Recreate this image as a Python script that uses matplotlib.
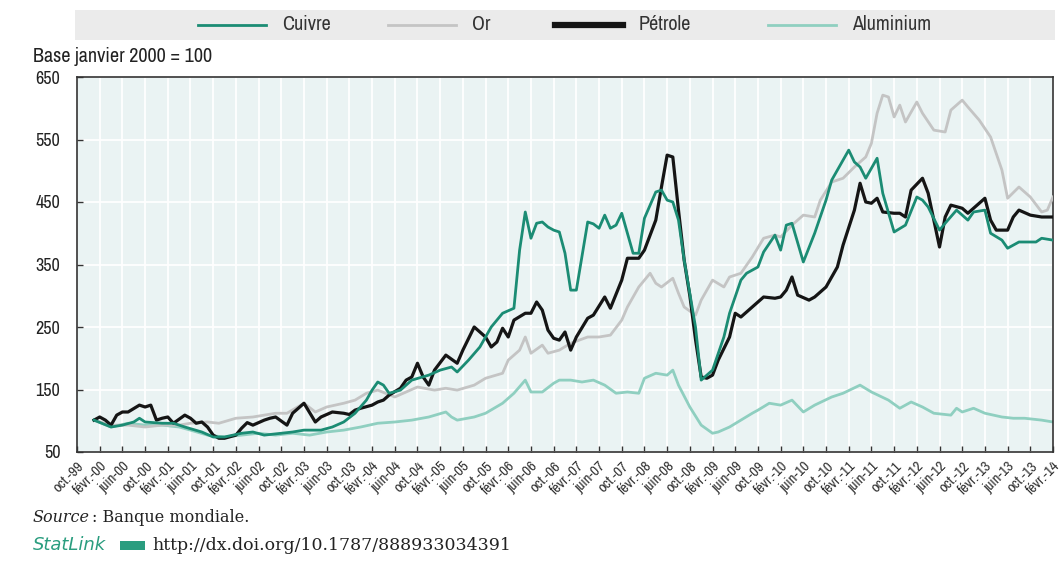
import matplotlib
matplotlib.use("Agg")
import matplotlib.pyplot as plt
from matplotlib.patches import Rectangle
from matplotlib.lines import Line2D

# months counted from janvier 2000 (0 = janv. 2000)
petrole_m = [0, 1, 2, 3, 4, 5, 6, 8, 9, 10, 11, 12, 13, 14, 16, 17, 18, 19, 20, 21, 22, 23, 25, 26, 27, 28,
             30, 31, 32, 34, 35, 37, 39, 40, 42, 44, 45, 46, 47, 49, 50, 51, 52, 54, 55, 56, 57, 58, 59, 60,
             62, 64, 65, 67, 69, 70, 71, 72, 73, 74, 76, 77, 78, 79, 80, 81, 82, 83, 84, 85, 87, 88, 90, 91,
             93, 94, 96, 97, 99, 100, 101, 102, 103, 104, 105, 106, 107, 108, 109, 110, 112, 113, 114, 116,
             118, 120, 121, 122, 123, 124, 126, 127, 129, 131, 132, 134, 135, 136, 137, 138, 139, 141, 142,
             143, 144, 146, 147, 149, 150, 151, 153, 154, 155, 157, 158, 159, 161, 162, 163, 165, 167, 169]
petrole_v = [101, 106, 101, 93, 109, 114, 114, 125, 122, 125, 101, 104, 106, 96, 109, 104, 96, 98, 90, 77, 72,
             72, 77, 88, 97, 93, 101, 104, 106, 93, 112, 128, 98, 106, 114, 112, 110, 117, 120, 125, 130, 133,
             141, 152, 165, 170, 192, 170, 157, 181, 205, 192, 213, 250, 234, 218, 226, 248, 234, 261, 272,
             272, 290, 277, 245, 232, 229, 242, 213, 234, 264, 269, 298, 280, 325, 360, 360, 373, 421, 474,
             525, 522, 437, 357, 300, 230, 170, 168, 173, 197, 234, 272, 266, 282, 298, 296, 298, 309, 330,
             301, 293, 298, 314, 346, 381, 437, 480, 450, 448, 456, 434, 432, 432, 426, 469, 488, 464, 378,
             426, 445, 440, 432, 440, 456, 421, 405, 405, 426, 437, 429, 426, 426]

cuivre_m = [0, 3, 5, 7, 8, 9, 12, 14, 16, 19, 21, 23, 26, 28, 30, 33, 35, 37, 40, 42, 44, 46, 48, 49, 50, 51,
            52, 54, 56, 59, 61, 63, 64, 66, 68, 70, 72, 74, 75, 76, 77, 78, 79, 80, 81, 82, 83, 84, 85, 87,
            88, 89, 90, 91, 92, 93, 95, 96, 97, 99, 100, 101, 102, 103, 104, 106, 107, 108, 109, 111, 112,
            114, 115, 117, 118, 120, 121, 122, 123, 125, 127, 129, 130, 133, 134, 135, 136, 138, 139, 141,
            143, 145, 146, 147, 149, 150, 152, 154, 155, 157, 158, 160, 161, 163, 164, 166, 167, 169]
cuivre_v = [101, 90, 93, 98, 104, 98, 96, 96, 90, 82, 74, 74, 80, 82, 77, 80, 82, 85, 85, 90, 98, 112, 133,
            149, 162, 157, 144, 149, 165, 173, 181, 186, 178, 197, 218, 250, 272, 280, 373, 434, 392, 416,
            418, 410, 405, 402, 368, 309, 309, 418, 415, 408, 429, 408, 413, 432, 368, 368, 424, 466, 469,
            453, 450, 421, 357, 250, 165, 173, 181, 234, 272, 325, 336, 346, 370, 397, 373, 413, 416, 354,
            400, 453, 485, 533, 514, 506, 488, 520, 464, 402, 413, 458, 453, 442, 405, 416, 437, 421, 434,
            437, 400, 389, 376, 386, 386, 386, 392, 389]

or_m = [0, 3, 6, 9, 12, 15, 17, 20, 22, 25, 28, 32, 34, 37, 39, 41, 44, 46, 48, 50, 53, 55, 57, 60, 62, 64,
        67, 69, 72, 73, 75, 76, 77, 79, 80, 82, 84, 87, 89, 91, 93, 94, 96, 98, 99, 100, 102, 103, 104, 106,
        107, 109, 111, 112, 114, 116, 118, 120, 121, 123, 125, 127, 128, 130, 132, 134, 136, 137, 138, 139,
        140, 141, 142, 143, 145, 146, 148, 150, 151, 153, 154, 156, 158, 160, 161, 163, 165, 167, 168, 169]
or_v = [101, 93, 93, 90, 93, 93, 96, 98, 96, 104, 106, 112, 112, 128, 114, 122, 128, 133, 144, 149, 138, 146,
        154, 149, 152, 149, 157, 168, 176, 197, 213, 234, 208, 221, 208, 213, 224, 234, 234, 237, 261, 282,
        314, 336, 320, 314, 328, 304, 282, 269, 293, 325, 314, 330, 336, 362, 392, 397, 394, 413, 429, 426,
        453, 482, 488, 506, 522, 544, 592, 621, 618, 586, 605, 578, 610, 592, 565, 562, 597, 613, 602, 581,
        554, 501, 456, 474, 458, 434, 437, 458]

alu_m = [0, 3, 6, 9, 12, 15, 17, 20, 23, 26, 29, 32, 35, 38, 41, 44, 47, 50, 53, 56, 59, 62, 63, 64, 67, 69,
         72, 74, 76, 77, 79, 81, 82, 84, 86, 88, 90, 92, 94, 96, 97, 99, 101, 102, 103, 105, 107, 109, 110,
         112, 114, 116, 117, 119, 121, 123, 125, 127, 130, 132, 135, 137, 140, 142, 144, 146, 148, 151, 152,
         153, 155, 157, 160, 162, 164, 167, 169]
alu_v = [101, 90, 96, 93, 93, 90, 85, 77, 74, 77, 80, 77, 80, 77, 82, 85, 90, 96, 98, 101, 106, 114, 106, 101,
         106, 112, 128, 144, 165, 146, 146, 160, 165, 165, 162, 165, 157, 144, 146, 144, 168, 176, 173, 181,
         157, 122, 93, 80, 82, 90, 101, 112, 117, 128, 125, 133, 114, 125, 138, 144, 157, 146, 133, 120, 130,
         122, 112, 109, 120, 114, 120, 112, 106, 104, 104, 101, 98]

# name, months, values, colour, width, z-order, legend line start (px)
series = [("Cuivre", cuivre_m, cuivre_v, "#1b8c74", 2.0, 3, 198),
          ("Or", or_m, or_v, "#c4c4c4", 2.0, 1, 388),
          ("Pétrole", petrole_m, petrole_v, "#151515", 2.3, 2, 555),
          ("Aluminium", alu_m, alu_v, "#8fcfc0", 2.0, 0, 768)]

tick_months = list(range(-3, 170, 4))
mois = ["oct.", "févr.", "juin"]
tick_labels = []
for i, m in enumerate(tick_months):
    an = (2000 + (m // 12)) % 100
    tick_labels.append(mois[i % 3] + "-" + "%02d" % an)

narrow = ["Archivo Narrow", "Liberation Sans Narrow", "DejaVu Sans"]
serif = ["DejaVu Serif"]

W, H = 1063, 582
fig = plt.figure(figsize=(W / 100, H / 100), dpi=100)
ax = fig.add_axes([77 / W, 1 - 452 / H, 976 / W, 375 / H])
ax.set_facecolor("#eaf3f3")

for name, m, v, col, lw, z, lx in series:
    ax.plot(m, v, color=col, lw=lw, zorder=z + 2)

ax.set_xlim(-3, 169)
ax.set_ylim(50, 650)
ax.set_yticks(range(50, 651, 100))
ax.set_xticks(tick_months)
ax.set_xticklabels(tick_labels, rotation=45, ha="right", rotation_mode="anchor",
                   family=narrow, fontsize=10.5, color="#333333")
for t in ax.get_yticklabels():
    t.set_family(narrow)
    t.set_fontsize(13)
    t.set_color("#222222")
ax.tick_params(axis="both", direction="in", length=4, width=1, color="#333333")
ax.tick_params(axis="y", pad=12)
ax.tick_params(axis="x", pad=5)
ax.grid(True, color="white", lw=1.3)
ax.set_axisbelow(True)
for s in ax.spines.values():
    s.set_color("#333333")
    s.set_linewidth(1.2)

# legend band drawn by hand
fig.patches.append(Rectangle((75 / W, 1 - 40 / H), 980 / W, 30 / H,
                             transform=fig.transFigure, facecolor="#ebebeb", edgecolor="none"))
ly = 1 - 25 / H
for name, m, v, col, lw, z, lx in series:
    fig.lines.append(Line2D([lx / W, (lx + 68) / W], [ly, ly], transform=fig.transFigure,
                            color=col, lw=4.5 if name == "Pétrole" else lw))
    fig.text((lx + 84) / W, ly, name, family=narrow, fontsize=14.5, color="#333333",
             va="center")

fig.text(33 / W, 1 - 57 / H, "Base janvier 2000 = 100", family=narrow, fontsize=14.5,
         color="#222222", va="center")

fig.text(33 / W, 1 - 518 / H, "Source", family=serif, style="italic", fontsize=11.5,
         color="#222222", va="center")
fig.text(92 / W, 1 - 518 / H, ": Banque mondiale.", family=serif, fontsize=11.5,
         color="#222222", va="center")
fig.text(33 / W, 1 - 545 / H, "StatLink", family=["DejaVu Sans"], style="italic", fontsize=13,
         color="#2a9d7f", va="center")
fig.patches.append(Rectangle((120 / W, 1 - 550 / H), 25 / W, 9 / H,
                             transform=fig.transFigure, facecolor="#2a9d7f", edgecolor="none"))
fig.text(152 / W, 1 - 545 / H, "http://dx.doi.org/10.1787/888933034391", family=serif,
         fontsize=12.5, color="#222222", va="center")

fig.savefig("out.png", dpi=100)
